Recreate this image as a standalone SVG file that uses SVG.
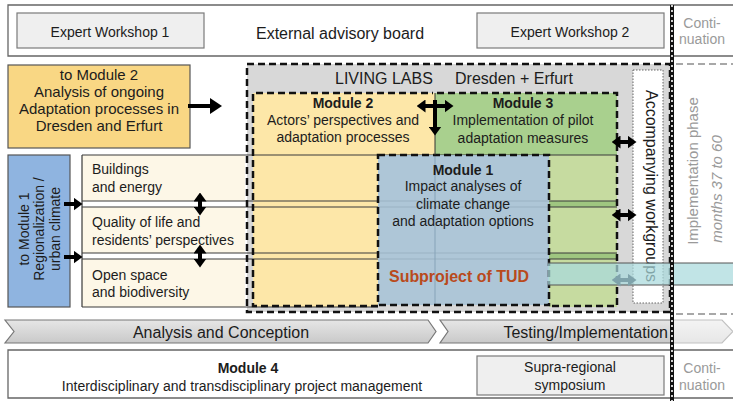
<svg xmlns="http://www.w3.org/2000/svg" width="733" height="401" viewBox="0 0 733 401">
<defs>
<style>
text{font-family:"Liberation Sans",Arial,sans-serif;fill:#1c1c1c}
.f14{font-size:14px}
.f15{font-size:15px}
.f16{font-size:16px}
.c{text-anchor:middle}
.b{font-weight:bold}
.gr{fill:#9a9a9a}
.ln{stroke:#666;stroke-width:1.3;fill:none}
.ew{fill:#efefef;stroke:#7a7a7a;stroke-width:1.2}
.dash{fill:none;stroke:#111;stroke-width:2.5;stroke-dasharray:7 4}
.arr{stroke:#000;stroke-width:4;fill:none}
.row{stroke:#3a3a3a;stroke-width:1.2;fill:none}
</style>
<marker id="ah" viewBox="0 0 10 12" refX="5" refY="6" markerWidth="12" markerHeight="16" markerUnits="userSpaceOnUse" orient="auto-start-reverse" preserveAspectRatio="none"><path d="M0,0 L10,6 L0,12 z" fill="#000"/></marker>
<marker id="ahs" viewBox="0 0 10 12" refX="5" refY="6" markerWidth="9" markerHeight="13" markerUnits="userSpaceOnUse" orient="auto-start-reverse" preserveAspectRatio="none"><path d="M0,0 L10,6 L0,12 z" fill="#000"/></marker>
<marker id="aht" viewBox="0 0 10 12" refX="5" refY="6" markerWidth="9" markerHeight="13" markerUnits="userSpaceOnUse" orient="auto-start-reverse" preserveAspectRatio="none"><path d="M0,0 L10,6 L0,12 z" fill="#7fa3ab"/></marker>
<linearGradient id="chev" x1="0" y1="0" x2="0" y2="1"><stop offset="0" stop-color="#e6e6e6"/><stop offset="1" stop-color="#c9c9c9"/></linearGradient>
</defs>
<rect width="733" height="401" fill="#fff"/>

<g id="advisory-board">
<path class="ln" d="M733,5 H8 V56 H733"/>
<text class="f16 c" x="340" y="39">External advisory board</text>
</g>
<g id="expert-workshop-1">
<rect class="ew" x="17" y="13" width="187" height="35"/>
<text class="f14 c" x="110" y="37">Expert Workshop 1</text>
</g>
<g id="expert-workshop-2">
<rect class="ew" x="477" y="13" width="187" height="35"/>
<text class="f14 c" x="570" y="37">Expert Workshop 2</text>
</g>
<g id="continuation-top">
<text class="f14 c gr" x="702" y="28">Conti-</text>
<text class="f14 c gr" x="702" y="44">nuation</text>
</g>

<g id="to-module-2">
<rect x="8" y="65" width="182" height="83" fill="#f9d784" stroke="#555" stroke-width="1.2"/>
<text class="f15 c" x="99" y="80">to Module 2</text>
<text class="f15 c" x="99" y="97">Analysis of ongoing</text>
<text class="f15 c" x="99" y="114">Adaptation processes in</text>
<text class="f15 c" x="99" y="131">Dresden and Erfurt</text>
</g>

<g id="implementation-phase">
<rect x="676" y="64" width="60" height="250" fill="#fff"/>
<path d="M676,64 H733 M676,314 H733" fill="none" stroke="#a8a8a8" stroke-width="2" stroke-dasharray="7 4"/>
<text class="f15 c gr" transform="translate(698,171) rotate(-90)">Implementation phase</text>
<text class="f15 c gr" font-style="italic" transform="translate(722,189) rotate(-90)">months 37 to 60</text>
</g>

<g id="living-labs">
<rect x="247" y="64" width="423" height="248" fill="#d8d8d8"/>
<text class="f16" x="335" y="84">LIVING LABS</text>
<text class="f16" x="455" y="84">Dresden + Erfurt</text>
</g>

<g id="module-2">
<rect x="253" y="93" width="182" height="62" fill="#fde7a8"/>
<rect x="253" y="155" width="125" height="152" fill="#fde7a8"/>
</g>
<g id="module-3">
<rect x="435" y="93" width="182" height="62" fill="#a9d08e"/>
<rect x="549" y="155" width="68" height="152" fill="#c6dba0"/>
<rect x="549" y="201" width="68" height="6" fill="#9fc680"/>
<rect x="549" y="253" width="68" height="6" fill="#9fc680"/>
</g>

<g id="thematic-rows">
<rect x="82" y="155" width="163" height="46" fill="#fdf7e7"/>
<rect x="82" y="207" width="163" height="46" fill="#fdf7e7"/>
<rect x="82" y="259" width="163" height="48" fill="#fdf7e7"/>
<rect x="82" y="201" width="163" height="6" fill="#fff"/>
<rect x="82" y="253" width="163" height="6" fill="#fff"/>
<path class="row" d="M82,155 H617 M82,201 H617 M82,207 H617 M82,253 H617 M82,259 H617 M82,307 H378 M82,155 V307"/>
<text class="f14" x="92" y="174">Buildings</text>
<text class="f14" x="92" y="192">and energy</text>
<text class="f14" x="92" y="227">Quality of life and</text>
<text class="f14" x="92" y="245">residents’ perspectives</text>
<text class="f14" x="92" y="280">Open space</text>
<text class="f14" x="92" y="297">and biodiversity</text>
</g>

<g id="module-1">
<rect x="378" y="155" width="171" height="150" fill="#a7c3d6" fill-opacity="0.88"/>
<line x1="435" y1="155" x2="435" y2="305" stroke="#86a3b8" stroke-width="1"/>
<rect class="dash" x="378" y="155" width="171" height="150"/>
<text class="f14 c b" x="463" y="175">Module 1</text>
<text class="f14 c" x="463" y="191">Impact analyses of</text>
<text class="f14 c" x="463" y="209">climate change</text>
<text class="f14 c" x="463" y="226">and adaptation options</text>
</g>

<g id="module-borders">
<line x1="435" y1="93" x2="435" y2="155" stroke="#333" stroke-width="1"/>
<path class="dash" d="M378,306 H253 V93 H433"/>
<path class="dash" d="M437,93 H617 V306 H550"/>
<rect class="dash" x="247" y="64" width="423" height="248"/>
<text class="f14 c b" x="343" y="108">Module 2</text>
<text class="f14 c" x="343" y="125">Actors’ perspectives and</text>
<text class="f14 c" x="343" y="142">adaptation processes</text>
<text class="f14 c b" x="523" y="108">Module 3</text>
<text class="f14 c" x="523" y="125">Implementation of pilot</text>
<text class="f14 c" x="523" y="143">adaptation measures</text>
</g>

<g id="to-module-1">
<rect x="8" y="155" width="62" height="152" fill="#8fb4e0" stroke="#555" stroke-width="1.2"/>
<text class="f14 c" transform="translate(29,229) rotate(-90)">to Module 1</text>
<text class="f14 c" transform="translate(44,229) rotate(-90)">Regionalization /</text>
<text class="f14 c" transform="translate(60,229) rotate(-90)">urban climate</text>
</g>

<g id="accompanying-workgroups">
<rect x="633" y="70" width="30" height="233" fill="#fff" stroke="#666" stroke-width="1" stroke-dasharray="1.5 1.5"/>
<text class="c" font-size="16" transform="translate(646,186) rotate(90)">Accompanying workgroups</text>
</g>

<g id="subproject-tud">
<rect x="548" y="263" width="185" height="22" fill="#a9d9dd" fill-opacity="0.72"/>
<path d="M548,263 H733 M548,285 H733" stroke="#555" stroke-width="1"/>
<text x="389" y="282" font-size="17" font-weight="bold" style="fill:#b94a1c" textLength="140" lengthAdjust="spacingAndGlyphs">Subproject of TUD</text>
</g>

<g id="connectors">
<line class="arr" x1="188" y1="106" x2="216" y2="106" marker-end="url(#ah)"/>
<line class="arr" x1="64" y1="204" x2="78" y2="204" marker-end="url(#ahs)"/>
<line class="arr" x1="64" y1="257" x2="78" y2="257" marker-end="url(#ahs)"/>
<line class="arr" x1="200" y1="197" x2="200" y2="211" marker-start="url(#ahs)" marker-end="url(#ahs)"/>
<line class="arr" x1="200" y1="249" x2="200" y2="263" marker-start="url(#ahs)" marker-end="url(#ahs)"/>
<line class="arr" x1="421" y1="106" x2="449" y2="106" marker-start="url(#ahs)" marker-end="url(#ahs)"/>
<line class="arr" x1="435" y1="100" x2="435" y2="131" marker-end="url(#ahs)"/>
<line class="arr" x1="616" y1="142" x2="632" y2="142" marker-start="url(#ahs)" marker-end="url(#ahs)"/>
<line class="arr" x1="616" y1="215" x2="632" y2="215" marker-start="url(#ahs)" marker-end="url(#ahs)"/>
<line x1="616" y1="280" x2="632" y2="280" stroke="#7fa3ab" stroke-width="4" marker-start="url(#aht)" marker-end="url(#aht)"/>
</g>

<g id="phase-analysis">
<polygon points="5,320 428,320 436,331.5 428,343 5,343 14,331.5" fill="url(#chev)" stroke="#777" stroke-width="1.2"/>
<text class="f16 c" x="221" y="338">Analysis and Conception</text>
</g>
<g id="phase-testing">
<polygon points="440,320 722,320 733,331.5 722,343 440,343 448,331.5" fill="url(#chev)" stroke="#777" stroke-width="1.2"/>
<rect x="674" y="318" width="59" height="27" fill="#fff" fill-opacity="0.55"/>
<text class="f16" x="668" y="338" text-anchor="end">Testing/Implementation</text>
</g>

<g id="module-4">
<path class="ln" d="M733,350 H8 V398 H733"/>
<text class="f14 c b" x="248" y="373">Module 4</text>
<text class="f14 c" x="242" y="391">Interdisciplinary and transdisciplinary project management</text>
</g>
<g id="symposium">
<rect class="ew" x="477" y="356" width="187" height="39"/>
<text class="f14 c" x="570" y="372">Supra-regional</text>
<text class="f14 c" x="570" y="390">symposium</text>
</g>
<g id="continuation-bottom">
<text class="f14 c gr" x="702" y="373">Conti-</text>
<text class="f14 c gr" x="702" y="390">nuation</text>
</g>

<g id="phase-divider">
<line x1="672" y1="5" x2="672" y2="401" stroke="#111" stroke-width="4"/>
<line x1="672" y1="5" x2="672" y2="401" stroke="#fff" stroke-width="1.6" stroke-dasharray="2 3"/>
</g>
</svg>
